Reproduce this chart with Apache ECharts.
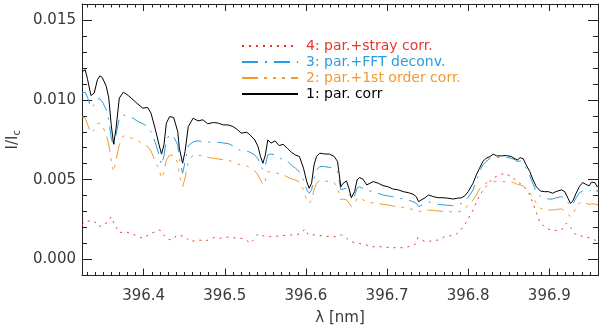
<!DOCTYPE html>
<html>
<head>
<meta charset="utf-8">
<title>I/Ic profiles</title>
<script src="https://cdn.jsdelivr.net/npm/echarts@6/dist/echarts.min.js"></script>
<style>
  html, body { margin: 0; padding: 0; background: #fff; }
  #chart { width: 600px; height: 327px; }
</style>
</head>
<body>
<div id="chart"></div>
<script>
// wavelength grid [nm] for curves 1-3
const wave = [
  396.324, 396.328, 396.331, 396.335, 396.339, 396.343, 396.346, 396.349, 396.354, 396.357,
  396.360, 396.363, 396.366, 396.370, 396.375, 396.381, 396.387, 396.393, 396.399, 396.405,
  396.409, 396.414, 396.419, 396.422, 396.425, 396.428, 396.432, 396.437, 396.442, 396.444,
  396.448, 396.451, 396.455, 396.461, 396.467, 396.473, 396.479, 396.486, 396.492, 396.498,
  396.504, 396.510, 396.516, 396.520, 396.527, 396.531, 396.537, 396.541, 396.544, 396.547,
  396.550, 396.553, 396.557, 396.562, 396.567, 396.572, 396.577, 396.582, 396.587, 396.592,
  396.597, 396.601, 396.604, 396.607, 396.610, 396.613, 396.617, 396.623, 396.629, 396.635,
  396.639, 396.643, 396.646, 396.650, 396.653, 396.656, 396.660, 396.663, 396.666, 396.670,
  396.675, 396.679, 396.683, 396.689, 396.695, 396.701, 396.707, 396.714, 396.720, 396.726,
  396.732, 396.736, 396.739, 396.742, 396.747, 396.751, 396.757, 396.763, 396.769, 396.775,
  396.781, 396.787, 396.792, 396.796, 396.800, 396.806, 396.810, 396.814, 396.818, 396.822,
  396.827, 396.831, 396.835, 396.841, 396.847, 396.853, 396.858, 396.861, 396.864, 396.868,
  396.871, 396.876, 396.880, 396.884, 396.889, 396.894, 396.899, 396.904, 396.908, 396.915,
  396.919, 396.923, 396.926, 396.929, 396.933, 396.937, 396.941, 396.945, 396.949, 396.952,
  396.956, 396.959, 396.960
];

// 1: par. corr
const parCorr = [
  0.01177, 0.01188, 0.01125, 0.01027, 0.01042, 0.01125, 0.01150, 0.01140, 0.01083, 0.01011,
  0.00843, 0.00722, 0.00823, 0.01011, 0.01048, 0.01027, 0.01000, 0.00973, 0.00948, 0.00952,
  0.00917, 0.00823, 0.00718, 0.00660, 0.00718, 0.00854, 0.00895, 0.00889, 0.00801, 0.00697,
  0.00603, 0.00676, 0.00833, 0.00885, 0.00868, 0.00875, 0.00850, 0.00858, 0.00854, 0.00843,
  0.00843, 0.00833, 0.00812, 0.00791, 0.00797, 0.00781, 0.00749, 0.00707, 0.00645, 0.00603,
  0.00655, 0.00749, 0.00729, 0.00743, 0.00713, 0.00722, 0.00697, 0.00672, 0.00655, 0.00645,
  0.00572, 0.00488, 0.00446, 0.00478, 0.00592, 0.00645, 0.00666, 0.00661, 0.00660, 0.00645,
  0.00613, 0.00456, 0.00478, 0.00492, 0.00446, 0.00387, 0.00425, 0.00498, 0.00513, 0.00505,
  0.00467, 0.00478, 0.00488, 0.00478, 0.00463, 0.00456, 0.00442, 0.00436, 0.00425, 0.00419,
  0.00409, 0.00394, 0.00362, 0.00373, 0.00387, 0.00404, 0.00394, 0.00387, 0.00387, 0.00384,
  0.00379, 0.00384, 0.00387, 0.00400, 0.00425, 0.00478, 0.00530, 0.00572, 0.00613, 0.00634,
  0.00645, 0.00660, 0.00649, 0.00649, 0.00651, 0.00645, 0.00630, 0.00624, 0.00638, 0.00630,
  0.00597, 0.00550, 0.00498, 0.00456, 0.00429, 0.00425, 0.00425, 0.00415, 0.00425, 0.00436,
  0.00425, 0.00384, 0.00352, 0.00367, 0.00415, 0.00456, 0.00482, 0.00471, 0.00461, 0.00484,
  0.00482, 0.00456, 0.00463
];

// 3: par.+FFT deconv.
const fftDeconv = [
  0.01042, 0.01048, 0.01013, 0.00948, 0.00969, 0.01006, 0.01006, 0.00989, 0.00937, 0.00875,
  0.00762, 0.00707, 0.00781, 0.00887, 0.00906, 0.00895, 0.00885, 0.00864, 0.00850, 0.00833,
  0.00799, 0.00737, 0.00655, 0.00592, 0.00649, 0.00749, 0.00781, 0.00770, 0.00718, 0.00636,
  0.00540, 0.00611, 0.00712, 0.00737, 0.00743, 0.00739, 0.00737, 0.00734, 0.00734, 0.00730,
  0.00726, 0.00712, 0.00693, 0.00680, 0.00680, 0.00672, 0.00655, 0.00630, 0.00592, 0.00561,
  0.00592, 0.00655, 0.00661, 0.00655, 0.00636, 0.00624, 0.00618, 0.00592, 0.00572, 0.00550,
  0.00498, 0.00436, 0.00415, 0.00436, 0.00511, 0.00561, 0.00582, 0.00582, 0.00577, 0.00572,
  0.00549, 0.00436, 0.00442, 0.00446, 0.00423, 0.00379, 0.00398, 0.00446, 0.00456, 0.00446,
  0.00425, 0.00429, 0.00425, 0.00415, 0.00404, 0.00398, 0.00394, 0.00384, 0.00379, 0.00373,
  0.00362, 0.00352, 0.00331, 0.00339, 0.00348, 0.00361, 0.00354, 0.00346, 0.00342, 0.00340,
  0.00337, 0.00342, 0.00352, 0.00367, 0.00389, 0.00436, 0.00492, 0.00549, 0.00592, 0.00613,
  0.00634, 0.00645, 0.00639, 0.00639, 0.00639, 0.00634, 0.00624, 0.00613, 0.00618, 0.00603,
  0.00574, 0.00524, 0.00473, 0.00423, 0.00394, 0.00384, 0.00379, 0.00379, 0.00386, 0.00394,
  0.00384, 0.00357, 0.00335, 0.00348, 0.00386, 0.00417, 0.00429, 0.00425, 0.00423, 0.00442,
  0.00446, 0.00425, 0.00436
];

// 2: par.+1st order corr.
const firstOrder = [
  0.00895, 0.00885, 0.00843, 0.00791, 0.00812, 0.00850, 0.00854, 0.00837, 0.00781, 0.00718,
  0.00624, 0.00550, 0.00624, 0.00718, 0.00774, 0.00770, 0.00755, 0.00743, 0.00724, 0.00707,
  0.00680, 0.00618, 0.00561, 0.00509, 0.00549, 0.00624, 0.00655, 0.00652, 0.00605, 0.00530,
  0.00456, 0.00511, 0.00611, 0.00655, 0.00652, 0.00649, 0.00639, 0.00634, 0.00630, 0.00624,
  0.00624, 0.00611, 0.00599, 0.00592, 0.00586, 0.00572, 0.00555, 0.00530, 0.00498, 0.00467,
  0.00498, 0.00549, 0.00550, 0.00545, 0.00536, 0.00530, 0.00517, 0.00505, 0.00498, 0.00486,
  0.00436, 0.00373, 0.00352, 0.00373, 0.00436, 0.00478, 0.00495, 0.00492, 0.00488, 0.00480,
  0.00448, 0.00373, 0.00379, 0.00373, 0.00354, 0.00331, 0.00354, 0.00384, 0.00384, 0.00376,
  0.00361, 0.00357, 0.00354, 0.00351, 0.00345, 0.00342, 0.00335, 0.00329, 0.00326, 0.00321,
  0.00313, 0.00307, 0.00298, 0.00304, 0.00307, 0.00310, 0.00307, 0.00304, 0.00301, 0.00300,
  0.00298, 0.00298, 0.00304, 0.00317, 0.00342, 0.00373, 0.00404, 0.00442, 0.00467, 0.00478,
  0.00488, 0.00488, 0.00488, 0.00488, 0.00488, 0.00486, 0.00478, 0.00470, 0.00467, 0.00461,
  0.00442, 0.00417, 0.00386, 0.00354, 0.00321, 0.00313, 0.00310, 0.00310, 0.00313, 0.00317,
  0.00304, 0.00285, 0.00268, 0.00285, 0.00323, 0.00354, 0.00362, 0.00352, 0.00345, 0.00348,
  0.00348, 0.00342, 0.00348
];

// 4: par.+stray corr. (own grid)
const waveStray = [
  396.324, 396.329, 396.335, 396.340, 396.344, 396.350, 396.356, 396.360, 396.365, 396.370,
  396.378, 396.389, 396.399, 396.409, 396.420, 396.428, 396.434, 396.442, 396.451, 396.457,
  396.467, 396.477, 396.487, 396.495, 396.504, 396.513, 396.520, 396.526, 396.532, 396.541,
  396.548, 396.556, 396.566, 396.578, 396.588, 396.594, 396.599, 396.603, 396.611, 396.622,
  396.636, 396.644, 396.648, 396.656, 396.664, 396.673, 396.680, 396.693, 396.706, 396.722,
  396.734, 396.738, 396.747, 396.754, 396.763, 396.771, 396.784, 396.790, 396.797, 396.806,
  396.814, 396.822, 396.830, 396.839, 396.845, 396.853, 396.861, 396.869, 396.876, 396.882,
  396.888, 396.896, 396.904, 396.915, 396.921, 396.927, 396.933, 396.943, 396.952, 396.960
];
const strayCorr = [
  0.00216, 0.00237, 0.00245, 0.00235, 0.00206, 0.00216, 0.00235, 0.00268, 0.00210, 0.00169,
  0.00174, 0.00154, 0.00133, 0.00164, 0.00185, 0.00133, 0.00122, 0.00154, 0.00143, 0.00112,
  0.00122, 0.00118, 0.00138, 0.00133, 0.00141, 0.00135, 0.00133, 0.00122, 0.00102, 0.00160,
  0.00147, 0.00143, 0.00147, 0.00154, 0.00154, 0.00166, 0.00191, 0.00154, 0.00154, 0.00147,
  0.00143, 0.00154, 0.00141, 0.00112, 0.00102, 0.00094, 0.00080, 0.00080, 0.00074, 0.00074,
  0.00091, 0.00137, 0.00112, 0.00116, 0.00122, 0.00143, 0.00154, 0.00179, 0.00229, 0.00310,
  0.00404, 0.00456, 0.00509, 0.00530, 0.00540, 0.00519, 0.00488, 0.00456, 0.00404, 0.00321,
  0.00237, 0.00196, 0.00181, 0.00185, 0.00227, 0.00196, 0.00154, 0.00143, 0.00133, 0.00112
];

const names = ['4: par.+stray corr.', '3: par.+FFT deconv.', '2: par.+1st order corr.', '1: par. corr'];
const colors = ['#e8352e', '#2b9de0', '#f29a2e', '#000000'];
const dashes = [[2, 5], [16, 7, 2, 7], [16, 6, 3, 6, 3, 6, 3, 6], 'solid'];

const font = 'DejaVu Sans';
const axisColor = '#222';
const textColor = '#3a3a3a';

function pairs(xs, ys) {
  return xs.map((x, i) => [x, ys[i]]);
}

// x axis (bottom with labels, top mirrored without)
function xAx(pos) {
  return {
    type: 'value',
    position: pos,
    min: 396.324,
    max: 396.96,
    minInterval: 0.1,
    maxInterval: 0.1,
    splitLine: { show: false },
    axisLine: { show: true, onZero: false, lineStyle: { color: axisColor, width: 1 } },
    axisTick: { show: true, inside: true, length: 7, lineStyle: { color: axisColor } },
    minorTick: { show: true, splitNumber: 10, length: 3.5, lineStyle: { color: axisColor } },
    axisLabel: {
      show: pos === 'bottom',
      showMinLabel: false,
      showMaxLabel: false,
      margin: 13,
      fontFamily: font,
      fontSize: 15,
      color: textColor,
      formatter: v => v.toFixed(1)
    },
    name: pos === 'bottom' ? 'λ [nm]' : '',
    nameLocation: 'middle',
    nameGap: 35,
    nameTextStyle: { fontFamily: font, fontSize: 15, color: textColor }
  };
}

function yAx(pos) {
  return {
    type: 'value',
    position: pos,
    min: -0.001,
    max: 0.016,
    minInterval: 0.005,
    maxInterval: 0.005,
    splitLine: { show: false },
    axisLine: { show: true, onZero: false, lineStyle: { color: axisColor, width: 1 } },
    axisTick: { show: true, inside: true, length: 10, lineStyle: { color: axisColor } },
    minorTick: { show: true, splitNumber: 5, length: 5, lineStyle: { color: axisColor } },
    axisLabel: {
      show: pos === 'left',
      showMinLabel: false,
      showMaxLabel: false,
      margin: 6,
      fontFamily: font,
      fontSize: 15,
      color: textColor,
      formatter: v => v.toFixed(3)
    },
    name: pos === 'left' ? 'I/I{s|c}' : '',
    nameLocation: 'middle',
    nameRotate: 90,
    nameGap: 58,
    nameTextStyle: {
      fontFamily: font,
      fontSize: 15,
      color: textColor,
      rich: { s: { fontFamily: font, fontSize: 10, color: textColor, padding: [8, 0, 0, 0] } }
    }
  };
}

const chart = echarts.init(document.getElementById('chart'), null, { renderer: 'canvas' });

const seriesData = [pairs(waveStray, strayCorr), pairs(wave, fftDeconv), pairs(wave, firstOrder), pairs(wave, parCorr)];

const option = {
  animation: false,
  backgroundColor: '#fff',
  grid: { left: 82, right: 2, top: 4, bottom: 51.5, containLabel: false, outerBoundsMode: 'none' },
  legend: {
    orient: 'vertical',
    left: 236,
    top: 34,
    itemWidth: 56,
    itemHeight: 14,
    itemGap: 2,
    itemStyle: { opacity: 0 },
    textStyle: { fontFamily: font, fontSize: 14, padding: [0, 0, 0, 3] },
    data: names.map((n, i) => ({ name: n, textStyle: { color: colors[i] } }))
  },
  xAxis: [xAx('bottom'), xAx('top')],
  yAxis: [yAx('left'), yAx('right')],
  series: names.map((n, i) => ({
    name: n,
    type: 'line',
    xAxisIndex: 0,
    yAxisIndex: 0,
    data: seriesData[i],
    symbol: 'none',
    smooth: false,
    lineStyle: { color: colors[i], width: 1, type: dashes[i] },
    itemStyle: { color: colors[i] },
    z: i + 2
  }))
};

chart.setOption(option);
</script>
</body>
</html>
